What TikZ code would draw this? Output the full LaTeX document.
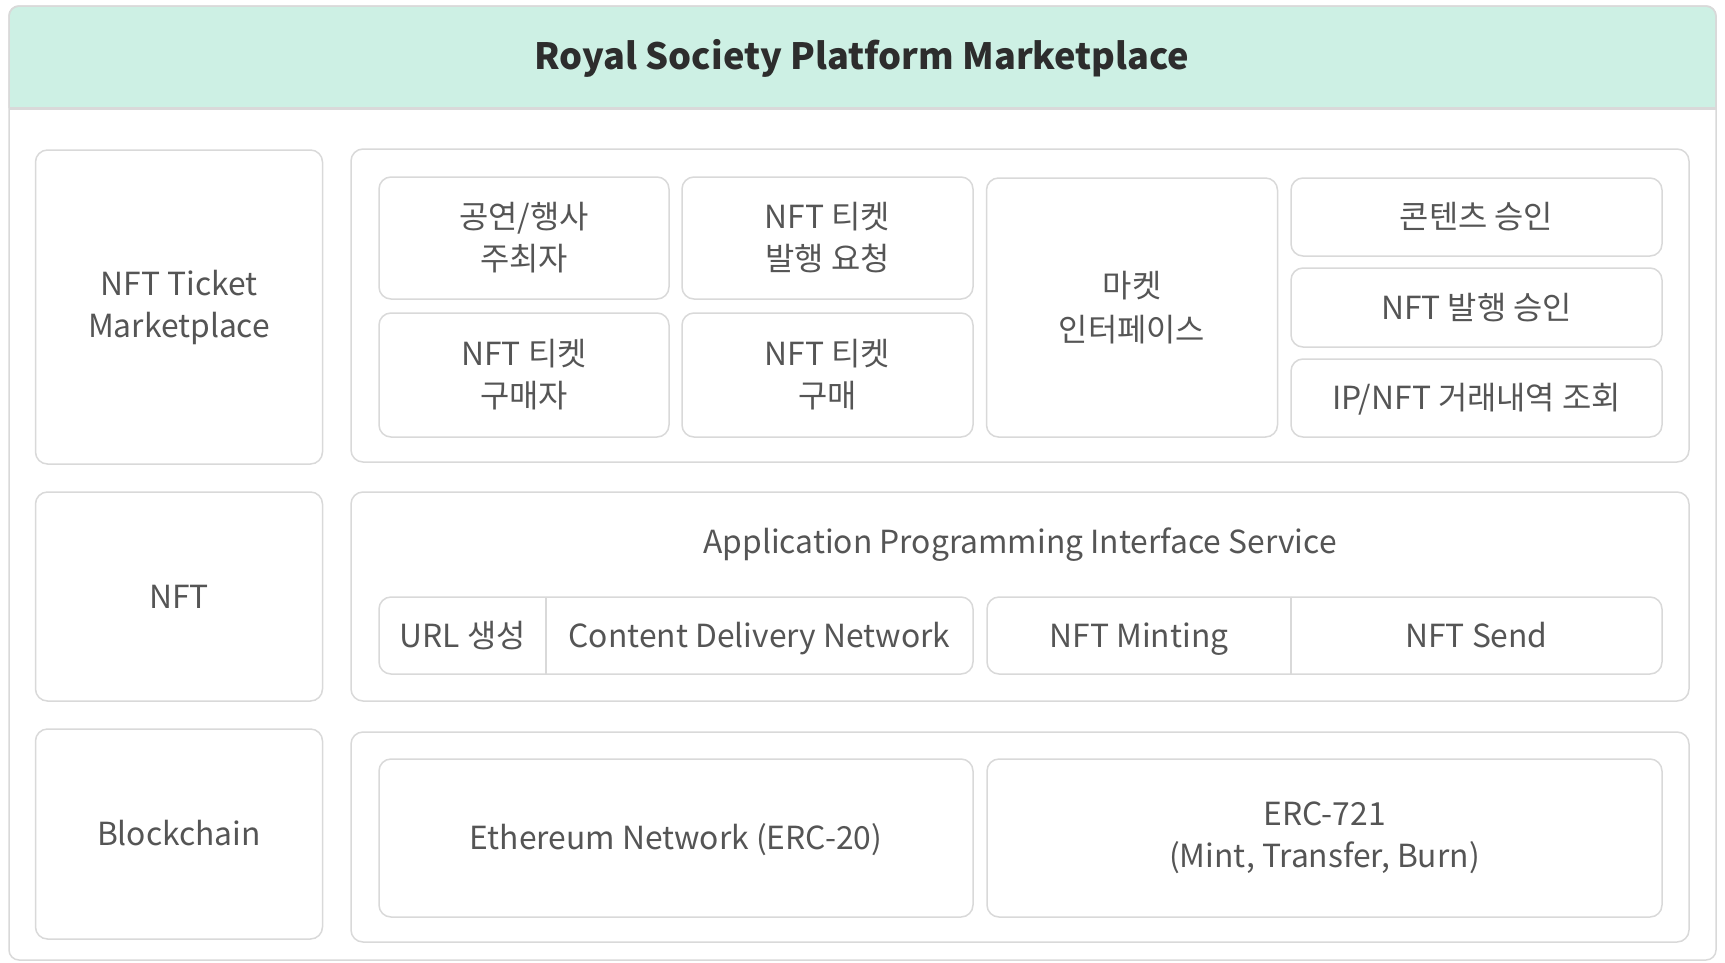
\documentclass[tikz,border=0pt]{standalone}
\usepackage{fontspec}
\setmainfont{Noto Sans CJK KR}
\usepackage{tikz}
\usetikzlibrary{positioning}

\definecolor{mint}{RGB}{205,240,228}
\definecolor{edgegray}{RGB}{217,217,217}
\definecolor{textgray}{RGB}{85,85,85}
\definecolor{titlegray}{RGB}{45,45,45}

\tikzset{
  panel/.style={draw=edgegray, line width=1.5pt, rounded corners=12pt,
                fill=white, inner sep=0pt, align=center},
  label/.style={text=textgray, align=center, inner sep=0pt,
                font=\fontsize{31.8}{42}\selectfont},
  oneline/.style={label, text height=29pt, text depth=6pt},
  seg/.style={oneline, minimum height=77pt}
}

\begin{document}
\begin{tikzpicture}[x=1pt,y=-1pt]
\useasboundingbox (0,0) rectangle (1725,962);
% outer frame and title band
\draw[draw=edgegray, line width=1.5pt, fill=mint] (9,108) [rounded corners=10pt]
      -- (9,6) -- (1716,6) [sharp corners] -- (1716,108);
\draw[edgegray, line width=1.5pt, rounded corners=10pt] (9,6) rectangle (1716,960);
\draw[edgegray, line width=3pt] (9,108) -- (1716,108);
\node[text=titlegray, font=\fontsize{36.2}{44}\selectfont\bfseries] (title)
      at (862,58) {Royal Society Platform Marketplace};

% layer names
\node[panel, label, minimum width=287pt, minimum height=314pt] (ticket)
      at (179,307) {NFT Ticket\\Marketplace};
\node[panel, oneline, minimum width=287pt, minimum height=209pt] (nft)
      at (179,596.5) {NFT};
\node[panel, oneline, minimum width=287pt, minimum height=210pt] (chain)
      at (179,834) {Blockchain};

% containers
\node[panel, minimum width=1338pt, minimum height=313pt] (market) at (1020,305.5) {};
\node[panel, minimum width=1338pt, minimum height=209pt] (api) at (1020,596.5) {};
\node[panel, minimum width=1338pt, minimum height=210pt] (block) at (1020,837) {};

% marketplace
\node[panel, label, minimum width=290pt, minimum height=122pt] (host)
      at (524,238) {공연/행사\\주최자};
\node[panel, label, minimum width=291pt, minimum height=122pt] (issue)
      at (827.5,238) {NFT 티켓\\발행 요청};
\node[panel, label, minimum width=290pt, minimum height=124pt] (buyer)
      at (524,375) {NFT 티켓\\구매자};
\node[panel, label, minimum width=291pt, minimum height=124pt] (buy)
      at (827.5,375) {NFT 티켓\\구매};
\node[panel, label, minimum width=291pt, minimum height=259pt] (iface)
      at (1132,307.5) {마켓\\[2pt]인터페이스};
\node[panel, oneline, minimum width=371pt, minimum height=78pt] (content)
      at (1476.5,217) {콘텐츠 승인};
\node[panel, oneline, minimum width=371pt, minimum height=79pt] (mintok)
      at (1476.5,307.5) {NFT 발행 승인};
\node[panel, oneline, minimum width=371pt, minimum height=78pt] (history)
      at (1476.5,398) {IP/NFT 거래내역 조회};

% api service
\node[oneline] (apititle) at (1020,542) {Application Programming Interface Service};
\node[panel, minimum width=594pt, minimum height=77pt] (cdnrow) at (676,635.5) {};
\node[panel, minimum width=675pt, minimum height=77pt] (mintrow) at (1324.5,635.5) {};
\node[seg, minimum width=167pt] (url) at (462.5,635.5) {URL 생성};
\node[seg, minimum width=427pt] (cdn) at (759.5,635.5) {Content Delivery Network};
\node[seg, minimum width=304pt] (minting) at (1139,635.5) {NFT Minting};
\node[seg, minimum width=371pt] (send) at (1476.5,635.5) {NFT Send};
\draw[edgegray, line width=1.5pt] (url.north east) -- (url.south east);
\draw[edgegray, line width=1.5pt] (minting.north east) -- (minting.south east);

% blockchain
\node[panel, oneline, minimum width=594pt, minimum height=158pt] (eth)
      at (676,838) {Ethereum Network (ERC-20)};
\node[panel, label, minimum width=675pt, minimum height=158pt] (erc)
      at (1324.5,838) {ERC-721\\(Mint, Transfer, Burn)};
\end{tikzpicture}
\end{document}
